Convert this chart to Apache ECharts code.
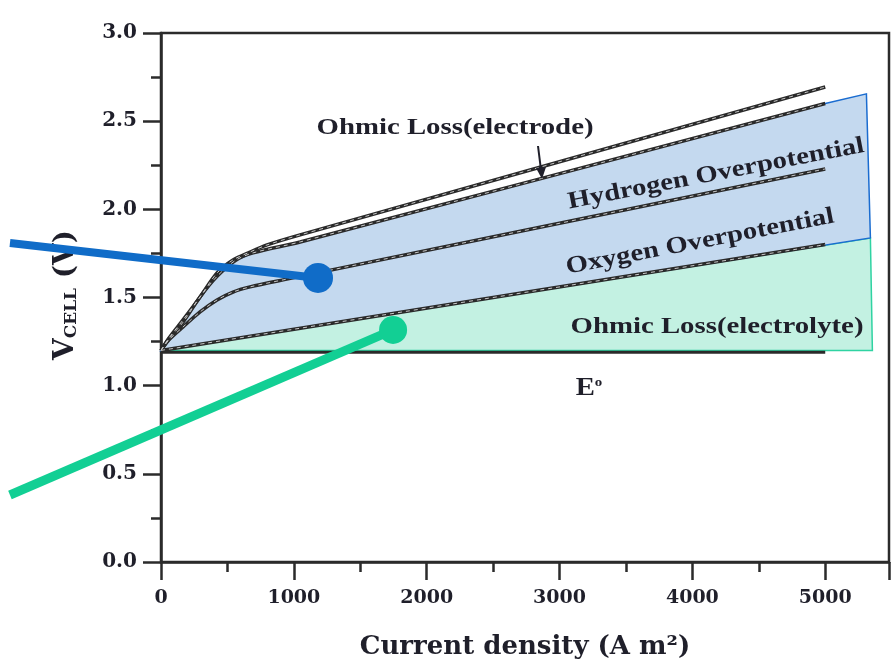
<!DOCTYPE html>
<html><head><meta charset="utf-8">
<script src="https://cdn.jsdelivr.net/npm/echarts@6/dist/echarts.min.js"></script>
<style>html,body{margin:0;padding:0;background:#fff}#c{width:895px;height:670px}</style>
</head><body><div id="c"></div>
<script>
// ---- data ----
const xTicks = [0, 1000, 2000, 3000, 4000, 5000];
const yTicks = [0.0, 0.5, 1.0, 1.5, 2.0, 2.5, 3.0];
// Ohmic loss (electrode) outer curve
const eleX = [0, 60, 166, 294, 422, 542, 670, 798, 1047, 5000];
const eleV = [1.2, 1.27, 1.373, 1.503, 1.639, 1.713, 1.758, 1.798, 1.855, 2.694];
// Hydrogen overpotential top (blue edge)
const h2X = [0, 60, 166, 294, 422, 560, 693, 1047, 5000];
const h2V = [1.2, 1.265, 1.36, 1.503, 1.62, 1.71, 1.753, 1.815, 2.60];
const h2EndX = 5310, h2EndV = 2.655;
// Oxygen overpotential top
const o2X = [0, 60, 166, 294, 422, 542, 670, 919, 5000];
const o2V = [1.2, 1.26, 1.333, 1.418, 1.486, 1.531, 1.56, 1.60, 2.229];
// Ohmic loss (electrolyte)
const elyX = [0, 5000];
const elyV = [1.2, 1.80];
const elyEndX = 5340, elyEndV = 1.838;
// baseline E0
const e0X = [0, 5000];
const e0V = [1.19, 1.19];
const baseV = 1.2;
// callouts (start off-chart to the left, end at the dot)
const blueCallX = [-1137, 1182], blueCallV = [1.809, 1.611];
const greenCallX = [-1137, 1747], greenCallV = [0.380, 1.316];

const zip = (a, b) => a.map((v, i) => [v, b[i]]);

const bluePoly = zip(h2X, h2V).concat([[h2EndX, h2EndV], [elyEndX, elyEndV], [0, baseV]]);
const greenPoly = [[0, baseV], [elyEndX, elyEndV], [elyEndX + 15, baseV]];

function polySeries(pts, fill, stroke) {
  return {
    type: 'custom', clip: false, silent: true,
    data: [0],
    renderItem: function (params, api) {
      return {
        type: 'polygon',
        shape: { points: pts.map(p => api.coord(p)) },
        style: { fill: fill, stroke: stroke, lineWidth: 1.5 }
      };
    },
    z: 1
  };
}
function blackLine(x, v) {
  return [{
    type: 'line', data: zip(x, v), showSymbol: false, smooth: 0.3, silent: true,
    lineStyle: { color: '#2a2a2a', width: 3.5 }, z: 3
  }, {
    type: 'line', data: zip(x, v), showSymbol: false, smooth: 0.3, silent: true,
    lineStyle: { color: '#c8c8c8', width: 1, type: [4, 4] }, z: 4
  }];
}

const serif = '"Liberation Serif", "Times New Roman", serif';
const wide = '"DejaVu Serif", serif';
const ink = '#1f1f2a';
const chart = echarts.init(document.getElementById('c'), null, { renderer: 'canvas' });
const axisCommon = {
  axisLine: { show: true, lineStyle: { color: '#2b2b2b', width: 2.5 } },
  splitLine: { show: false },
};
chart.setOption({
  animation: false,
  backgroundColor: '#fff',
  grid: { left: 161, right: 6, top: 33, bottom: 108, show: true, borderColor: '#2b2b2b', borderWidth: 2.5 },
  xAxis: Object.assign({}, axisCommon, {
    type: 'value', min: 0, max: 5480, interval: 1000,
    name: 'Current density (A m²)', nameLocation: 'middle', nameGap: 72,
    nameTextStyle: { fontFamily: wide, fontWeight: 'bold', fontSize: 26, color: ink },
    axisTick: { show: true, inside: false, length: 18, lineStyle: { color: '#2b2b2b', width: 2.5 } },
    minorTick: { show: true, splitNumber: 2, length: 10, lineStyle: { color: '#2b2b2b', width: 2.5 } },
    axisLabel: { fontFamily: wide, fontWeight: 'bold', fontSize: 19, color: ink, margin: 27,
      formatter: v => xTicks.includes(v) ? String(v) : '' }
  }),
  yAxis: Object.assign({}, axisCommon, {
    type: 'value', min: 0, max: 3, interval: 0.5,
    axisTick: { show: true, inside: false, length: 18, lineStyle: { color: '#2b2b2b', width: 2.5 } },
    minorTick: { show: true, splitNumber: 2, length: 10, lineStyle: { color: '#2b2b2b', width: 2.5 } },
    axisLabel: { fontFamily: wide, fontWeight: 'bold', fontSize: 20, color: ink, margin: 24,
      formatter: v => yTicks.some(t => Math.abs(t - v) < 1e-9) ? v.toFixed(1) : '' }
  }),
  series: [
    polySeries(greenPoly, '#c3f1e2', '#2fd3a2'),
    polySeries(bluePoly, '#c4d9ef', '#1a6cd0'),
    ...blackLine(eleX, eleV),
    ...blackLine(h2X, h2V),
    ...blackLine(o2X, o2V),
    ...blackLine(elyX, elyV),
    { type: 'line', data: zip(e0X, e0V), showSymbol: false, silent: true,
      lineStyle: { color: '#2a2a2a', width: 3 }, z: 3 }
  ]
});

// labels and callouts (callout ends placed through the chart's own scales)
const toPx = (x, v) => chart.convertToPixel({ gridIndex: 0 }, [x, v]);
function calloutGraphics(xs, vs, color, w, r) {
  const a = toPx(xs[0], vs[0]), b = toPx(xs[1], vs[1]);
  return [
    { type: 'line', z: 30, shape: { x1: a[0], y1: a[1], x2: b[0], y2: b[1] }, style: { stroke: color, lineWidth: w } },
    { type: 'circle', z: 31, shape: { cx: b[0], cy: b[1], r: r }, style: { fill: color } }
  ];
}
const lbl = (text, x, y, rot) => ({
  type: 'text', x: x, y: y, rotation: rot || 0, scaleX: 1.2, z: 20,
  style: { text: text, font: 'bold 24px ' + serif, fill: ink, align: 'center', verticalAlign: 'middle' }
});
chart.setOption({
  graphic: [
    { type: 'text', x: 66, y: 295, rotation: Math.PI / 2, z: 20,
      style: { text: '{a|V}{b|CELL}{a| (V)}', align: 'center', verticalAlign: 'middle',
        rich: {
          a: { fontFamily: wide, fontWeight: 'bold', fontSize: 28, fill: ink, color: ink },
          b: { fontFamily: wide, fontWeight: 'bold', fontSize: 17, fill: ink, color: ink, verticalAlign: 'bottom', padding: [9, 0, 0, 0] }
        } } },
    lbl('Ohmic Loss(electrode)', 455, 128),
    { type: 'line', z: 20, shape: { x1: 538, y1: 146, x2: 541, y2: 170 }, style: { stroke: ink, lineWidth: 2 } },
    { type: 'polygon', z: 20, shape: { points: [[536, 168], [546, 167], [542, 179]] }, style: { fill: ink } },
    lbl('Hydrogen Overpotential', 716, 174, 0.19),
    lbl('Oxygen Overpotential', 700, 242, 0.19),
    lbl('Ohmic Loss(electrolyte)', 717, 327),
    { type: 'text', x: 589, y: 389, scaleX: 1.15, z: 20, style: { text: '{e|E}{o|o}', align: 'center', verticalAlign: 'middle',
      rich: { e: { font: 'bold 25px ' + serif, fill: ink }, o: { font: 'bold 13px ' + serif, fill: ink, verticalAlign: 'top', padding: [0, 0, 13, 0] } } } },
    ...calloutGraphics(blueCallX, blueCallV, '#106cc8', 8, 15),
    ...calloutGraphics(greenCallX, greenCallV, '#12cf94', 9, 14)
  ]
});
</script></body></html>
